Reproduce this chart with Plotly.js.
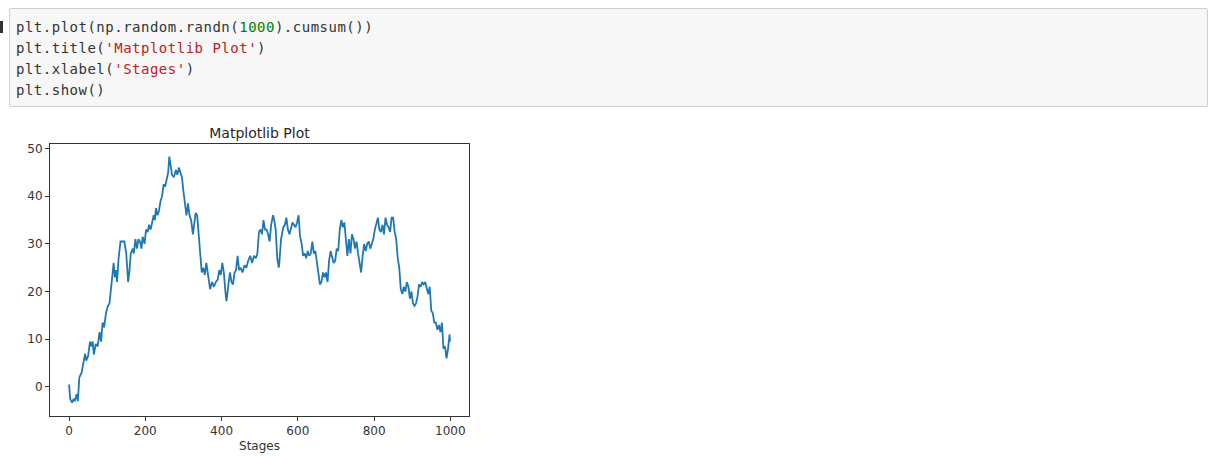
<!DOCTYPE html>
<html>
<head>
<meta charset="utf-8">
<script src="https://cdn.plot.ly/plotly-3.0.1.min.js"></script>
<style>
  html, body { margin: 0; padding: 0; background: #ffffff; width: 1215px; height: 462px; overflow: hidden; }
  #prompt { position: absolute; left: 0; top: 21px; width: 3px; height: 12px; background: #333; }
  #cell { position: absolute; left: 9px; top: 8px; width: 1199px; height: 99px; background: #f7f7f7;
          border: 1px solid #cfcfcf; border-radius: 2px; box-sizing: border-box; }
  .line { position: absolute; left: 16px; height: 21px; font-family: "DejaVu Sans Mono", monospace;
          font-size: 14px; line-height: 21px; color: #333; letter-spacing: 0.5px; white-space: pre; }
  .line span { display: inline-block; }
  .num { color: #008000; }
  .str { color: #ba2121; }
  #chart { position: absolute; left: 0; top: 110px; width: 480px; height: 352px; }
</style>
</head>
<body>
<div id="prompt"></div>
<div id="cell"></div>
<div class="line" style="top:17px"><span>plt.plot(np.random.randn(</span><span class="num">1000</span><span>).cumsum())</span></div>
<div class="line" style="top:38px"><span>plt.title(</span><span class="str">'Matplotlib Plot'</span><span>)</span></div>
<div class="line" style="top:59px"><span>plt.xlabel(</span><span class="str">'Stages'</span><span>)</span></div>
<div class="line" style="top:80px"><span>plt.show()</span></div>
<div id="chart"></div>
<script>
const stages = [0,3,8,12,15,20,23,27,33,38,42,45,50,55,58,62,65,70,75,80,84,88,92,97,102,106,110,114,117,120,123,126,130,135,140,145,150,155,158,162,167,170,174,178,182,186,190,193,198,202,206,210,214,218,222,225,228,232,236,240,244,248,252,256,260,263,266,270,275,280,284,288,292,296,300,305,308,312,316,320,325,328,332,336,340,344,348,352,356,360,365,370,375,380,385,390,394,398,402,406,410,413,418,422,426,430,434,438,442,446,450,455,460,465,470,475,480,485,490,494,498,502,506,510,514,518,522,526,530,535,538,542,546,550,552,556,562,566,570,574,578,582,586,590,594,598,602,606,610,614,618,622,626,630,634,638,642,646,650,654,658,662,666,670,674,678,682,686,690,694,698,702,706,710,714,718,722,726,730,734,738,742,746,750,754,758,762,766,770,774,778,782,786,790,794,798,802,806,810,814,818,822,826,830,834,838,842,846,850,854,858,862,866,870,874,878,882,886,890,894,898,902,906,910,914,918,922,926,930,934,938,942,946,950,954,958,962,966,970,974,978,982,986,990,994,998,999];
const values = [0.5,-2.5,-3.3,-2.5,-3,-1.5,-3,2,3,5.5,7,5.5,6.5,9.5,8.5,9.5,6.8,9,8.5,11.5,9.5,13.5,12.5,15.5,17,17.5,21,24,26,23,24.5,22,27,30.5,30.5,30.5,28,22,24,28,29,28,31,29,31,30.5,29,31.5,30,33,32.5,34,33,34.5,36,35,37.5,36,37,39,40,42.5,42,43.5,45,48.3,46.5,44.5,44,45.5,44.5,46,45,44,41,38,36,38.5,36,35,32,34,36.5,36,32,27,24,25,23.5,26,23,20.5,22,21,22,22.5,24.5,23.5,26,24,20,18,21.5,24,22,21.5,24,24.5,27.5,24.5,25,24,25.5,25,26.5,27.5,26,27.5,27,28,32.5,33,32,35,33,33,32,30.5,34,36,35,33,27,25,26.5,31,33.5,34,35.5,33,32,33.5,34.5,34,33.5,34.5,36,31.5,30,27.5,28,27,28.5,27.5,28,30.5,28,28.5,26,24,21.5,22,24,23,24,22,26.5,28.5,27,26,26.5,29,28.5,33,35,33.5,34.5,30,27.5,31,28,32,31,29,30.5,28,26,24,27.5,30,28.5,30,30.5,29,30,31,33,34,35.5,33,32.5,34,32,35.5,34,33.5,32.5,35.5,35.5,32.5,31,27,25,20.5,19.5,21,20,22,21,18.5,20,17.5,17,17.5,19,21.5,21,22,21.5,22,21,19.5,21,16,15.5,13.5,13.5,12,13,11.5,13.5,8,8.5,6,8,11,9.5];
const xTicks = [0,200,400,600,800,1000];
const yTicks = [0,10,20,30,40,50];
const chartTitle = 'Matplotlib Plot';
const xLabel = 'Stages';

const axisCommon = {
  showgrid: false, zeroline: false, showline: true, mirror: true,
  linecolor: '#333333', linewidth: 1,
  ticks: 'outside', ticklen: 4, tickwidth: 1, tickcolor: '#333333',
  tickfont: {family: 'DejaVu Sans', size: 12, color: '#333333'}
};

Plotly.newPlot('chart', [{
  x: stages, y: values, type: 'scatter', mode: 'lines',
  line: {color: '#1f77b4', width: 1.8}, hoverinfo: 'skip'
}], {
  width: 480, height: 352,
  margin: {l: 50, r: 11, t: 34, b: 46},
  paper_bgcolor: '#ffffff', plot_bgcolor: '#ffffff',
  showlegend: false,
  title: {text: chartTitle, font: {family: 'DejaVu Sans', size: 14, color: '#262626'},
          xref: 'paper', x: 0.5, xanchor: 'center', yref: 'paper', y: 1, yanchor: 'bottom', pad: {b: 6}},
  xaxis: Object.assign({}, axisCommon, {
    range: [-49.95, 1048.95], tickvals: xTicks, ticktext: xTicks.map(String),
    title: {text: xLabel, font: {family: 'DejaVu Sans', size: 12, color: '#333333'}, standoff: 4}
  }),
  yaxis: Object.assign({}, axisCommon, {
    range: [-6.1, 50.95], tickvals: yTicks, ticktext: yTicks.map(String)
  })
}, {displayModeBar: false, staticPlot: true});
</script>
</body>
</html>
